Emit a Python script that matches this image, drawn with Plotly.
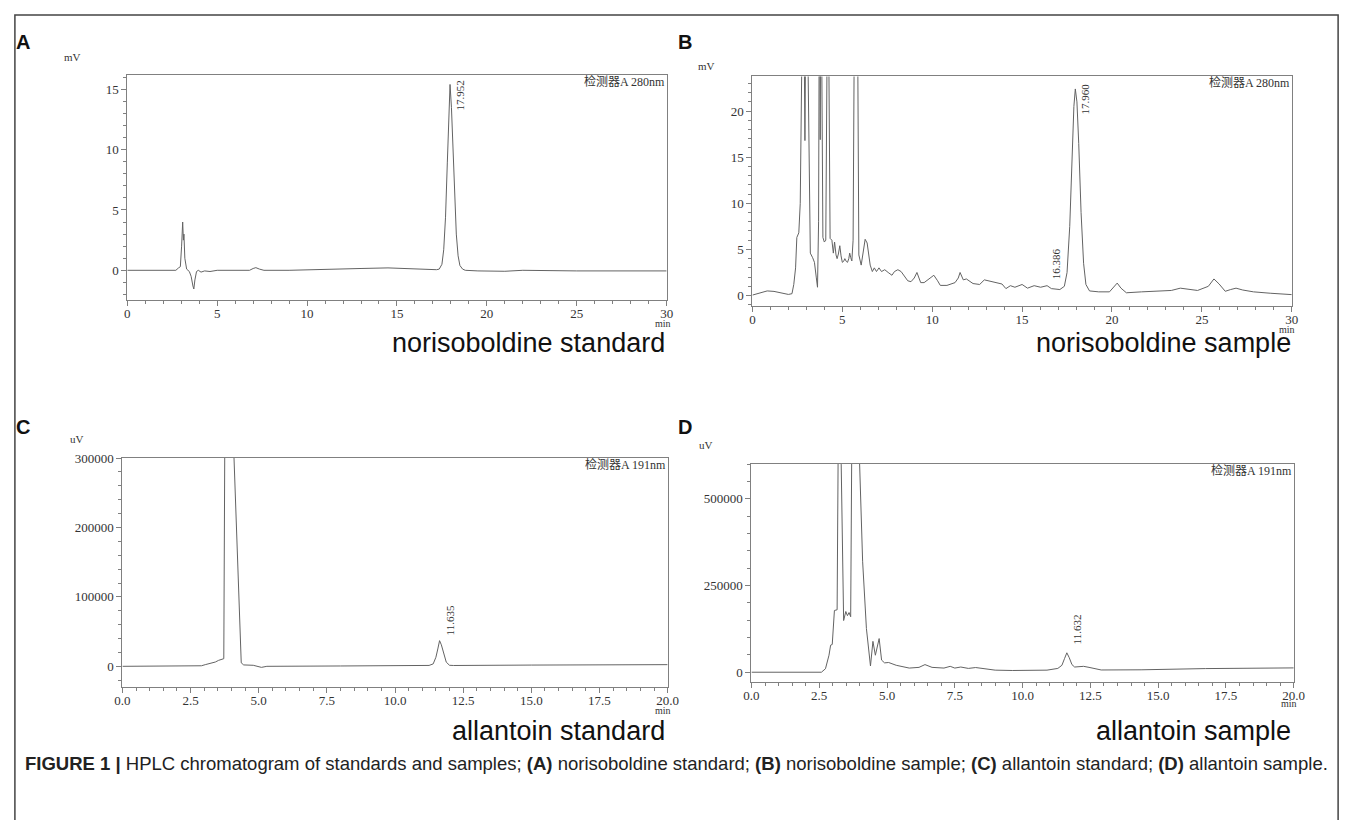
import plotly.graph_objects as go

W, H = 1357, 820

# ---- Panel A: norisoboldine standard, detector A 280 nm (mV vs min) ----
a_time = [0, 2.7, 2.85, 2.95, 3.02, 3.08, 3.12, 3.15, 3.2, 3.3, 3.45, 3.55, 3.65,
          3.7, 3.76, 3.85, 3.95, 4.1, 4.3, 4.6, 5.0, 6.8, 7.0, 7.15, 7.35, 7.6,
          9.0, 11.0, 13.0, 14.5, 15.5, 16.5, 17.2, 17.35, 17.5, 17.6, 17.7, 17.8,
          17.875, 17.952, 18.03, 18.1, 18.2, 18.3, 18.4, 18.5, 18.65, 18.8, 19.5,
          20.5, 21.0, 22.0, 25.0, 30.0]
a_signal = [0, 0, 0.2, 0.3, 2.0, 4.0, 2.5, 3.0, 1.0, 0.1, -0.1, -0.5, -1.3,
            -1.55, -0.8, -0.1, 0.0, -0.15, -0.05, -0.1, 0.0, 0.0, 0.15, 0.22, 0.1, 0.0,
            0.0, 0.05, 0.15, 0.2, 0.15, 0.05, 0.05, 0.1, 0.5, 1.7, 4.4, 8.9,
            12.5, 15.4, 13.5, 10.5, 6.5, 3.0, 1.2, 0.4, 0.1, 0.0, -0.05,
            -0.1, -0.08, 0.0, -0.05, -0.05]

# ---- Panel B: norisoboldine sample, detector A 280 nm (mV vs min) ----
b_time = [0, 0.4, 0.82, 1.2, 1.6, 2.0, 2.2, 2.3, 2.4, 2.47, 2.58, 2.66, 2.83, 2.92,
          3.0, 3.22, 3.35, 3.45, 3.55, 3.62, 3.68, 3.73, 3.77, 3.81, 3.92, 4.0,
          4.08, 4.2, 4.32, 4.42, 4.5, 4.57, 4.65, 4.71, 4.78, 4.86, 4.93, 5.0,
          5.07, 5.14, 5.22, 5.29, 5.36, 5.41, 5.47, 5.53, 5.6, 5.7, 5.82, 5.92,
          6.05, 6.15, 6.27, 6.38, 6.45, 6.55, 6.67, 6.78, 6.9, 7.04, 7.18, 7.36,
          7.55, 7.76, 7.9, 8.09, 8.27, 8.45, 8.64, 8.82, 9.0, 9.15, 9.36, 9.55,
          9.73, 10.09, 10.3, 10.45, 10.82, 11.27, 11.45, 11.55, 11.73, 11.9,
          12.27, 12.64, 12.9, 13.27, 13.64, 13.88, 14.1, 14.35, 14.6, 15.0, 15.3,
          15.67, 16.03, 16.39, 16.63, 17.1, 17.35, 17.5, 17.65, 17.78, 17.88,
          17.96, 18.05, 18.15, 18.28, 18.42, 18.55, 18.75, 19.26, 19.86, 20.05,
          20.29, 20.5, 20.8, 21.65, 22.6, 23.3, 23.8, 24.16, 24.76, 25.36, 25.67,
          25.96, 26.3, 26.6, 26.9, 27.27, 27.87, 28.8, 30.0]
b_signal = [0.05, 0.3, 0.5, 0.45, 0.25, 0.12, 0.2, 1.2, 3.0, 6.3, 6.8, 10.0, 40.0, 16.8,
            40.0, 4.6, 4.1, 3.6, 2.0, 0.9, 8.0, 40.0, 16.9, 40.0, 6.3, 5.8,
            6.0, 40.0, 6.2, 6.0, 4.6, 5.8, 4.4, 4.0, 4.5, 5.4, 4.3, 3.6,
            3.7, 4.0, 3.7, 3.6, 4.0, 4.6, 4.1, 3.75, 6.0, 40.0, 40.0, 4.4,
            3.3, 4.5, 6.1, 5.7, 4.8, 3.3, 2.6, 3.0, 2.6, 3.0, 2.6, 2.8,
            2.5, 2.2, 2.6, 2.8, 2.6, 2.1, 1.6, 1.5, 1.9, 2.5, 1.4, 1.4,
            1.7, 2.2, 1.6, 1.1, 1.1, 1.4, 1.9, 2.5, 1.7, 1.8,
            1.3, 1.2, 1.7, 1.5, 1.3, 1.25, 0.75, 1.07, 0.9, 1.2, 0.8,
            1.07, 0.9, 1.07, 0.75, 0.65, 1.0, 2.5, 7.5, 15.0, 20.5,
            22.4, 21.0, 16.5, 9.0, 3.5, 1.2, 0.5, 0.4, 0.4, 0.8,
            1.35, 0.8, 0.3, 0.4, 0.45, 0.55, 0.8, 0.7, 0.55, 1.0, 1.8,
            1.25, 0.46, 0.65, 0.8, 0.6, 0.4, 0.25, 0.1]

# ---- Panel C: allantoin standard, detector A 191 nm (uV vs min) ----
c_time = [0, 2.3, 2.9, 3.04, 3.22, 3.41, 3.53, 3.67, 3.72, 3.76, 3.9, 4.05, 4.36,
          4.45, 4.8, 5.1, 5.3, 8.0, 11.0, 11.25, 11.4, 11.5, 11.57, 11.635, 11.7,
          11.78, 11.88, 12.0, 12.15, 15.0, 20.0]
c_signal = [0, 500, 800, 2400, 3800, 6200, 8600, 10000, 11000, 350000, 400000, 350000, 5000,
            2000, 1500, -1500, 0, 500, 1000, 1300, 3500, 13000, 25000, 37000, 31000,
            18000, 6000, 1500, 1200, 1800, 2400]

# ---- Panel D: allantoin sample, detector A 191 nm (uV vs min) ----
d_time = [0, 2.58, 2.73, 2.86, 2.92, 2.98, 3.06, 3.16, 3.22, 3.26, 3.31, 3.4, 3.48,
          3.54, 3.6, 3.66, 3.72, 3.85, 3.95, 4.1, 4.24, 4.35, 4.39, 4.48, 4.57,
          4.71, 4.8, 4.91, 5.06, 5.34, 5.82, 6.18, 6.4, 6.66, 7.1, 7.33, 7.5,
          7.72, 8.0, 8.27, 8.99, 9.62, 10.9, 11.3, 11.45, 11.55, 11.632, 11.72,
          11.82, 11.92, 12.05, 12.25, 12.45, 12.65, 12.9, 14.37, 15.63, 16.74, 20.0]
d_signal = [0, 0, 10000, 49000, 78000, 80000, 178000, 180000, 900000, 900000, 600000, 149000, 175000,
            163000, 172000, 160000, 900000, 900000, 700000, 320000, 126000, 30000, 18000, 89000, 49000,
            97000, 35000, 27000, 28000, 20000, 12000, 14000, 22000, 14000, 12000, 17000, 12000,
            15000, 11000, 13500, 6000, 5000, 6000, 11000, 20000, 40000, 56000, 42000,
            22000, 15000, 16000, 17000, 14000, 10000, 6500, 7000, 9000, 10500, 12500]

panel_letters = ["A", "B", "C", "D"]
subtitles = ["norisoboldine standard", "norisoboldine sample",
             "allantoin standard", "allantoin sample"]
units = ["mV", "mV", "uV", "uV"]
detectors = ["检测器A 280nm", "检测器A 280nm", "检测器A 191nm", "检测器A 191nm"]
peak_names = [["17.952"], ["16.386", "17.960"], ["11.635"], ["11.632"]]
peak_times = [[17.952], [16.386, 17.960], [11.635], [11.632]]
peak_label_y = [[15.9], [1.5, 23.2], [41000], [74000]]
peak_anchor = [["top"], ["bottom", "top"], ["bottom"], ["bottom"]]
caption_bold = "FIGURE 1 |"
caption_text = (" HPLC chromatogram of standards and samples; <b>(A)</b> norisoboldine standard; "
                "<b>(B)</b> norisoboldine sample; <b>(C)</b> allantoin standard; "
                "<b>(D)</b> allantoin sample.")

# plot-area boxes in pixels: (left, right, top, bottom)
boxes = [(121, 668, 69, 296), (755, 1302, 70, 302),
         (116, 669, 455, 686), (754, 1304, 461, 681)]
# text positions in pixels
letter_pos = [(15, 35), (687, 35), (15, 424), (687, 424)]
unit_pos = [(65, 50), (708, 60), (70, 436), (708, 442)]
min_pos = [(674, 319), (1307, 325), (674, 710), (1309, 703)]
subtitle_pos = [(668, 339), (1303, 339), (668, 730), (1303, 730)]
peak_xshift = [[2], [1, 2], [2], [2]]

x_ranges = [[0, 30], [0, 30], [0, 20], [0, 20]]
y_ranges = [[-2.5, 16.15], [-1.18, 23.76], [-30000, 300000], [-28700, 600000]]
x_dticks = [5, 5, 2.5, 2.5]
x_minor = [1, 1, 0.5, 0.5]
y_dticks = [5, 5, 100000, 250000]
y_minor = [1, 1, 20000, 50000]

series_t = [a_time, b_time, c_time, d_time]
series_v = [a_signal, b_signal, c_signal, d_signal]

AXIS_COLOR = "#808080"
TRACE_COLOR = "#636363"
SERIF = "Liberation Serif, DejaVu Serif, serif"
SANS = "Liberation Sans, Arial, sans-serif"


def fx(px):
    return px / W


def fy(py):
    return 1 - py / H


fig = go.Figure()
annotations = []

for i in range(4):
    n = "" if i == 0 else str(i + 1)
    left, right, top, bottom = boxes[i]
    fig.add_trace(go.Scatter(
        x=series_t[i], y=series_v[i], mode="lines",
        line=dict(color=TRACE_COLOR, width=1),
        xaxis="x" + n, yaxis="y" + n, showlegend=False, hoverinfo="skip"))

    common = dict(showline=True, linecolor=AXIS_COLOR, linewidth=1, mirror=True,
                  ticks="outside", ticklen=5, tickcolor=AXIS_COLOR, showgrid=False,
                  zeroline=False, tickfont=dict(family=SERIF, size=13, color="#333333"))
    xfmt = ".1f" if i >= 2 else "d"
    fig.layout["xaxis" + n] = dict(
        common, domain=[fx(left), fx(right)], range=x_ranges[i], anchor="y" + n,
        tick0=0, dtick=x_dticks[i], tickformat=xfmt, ticklabelstandoff=-4,
        minor=dict(dtick=x_minor[i], tick0=0, ticks="outside", ticklen=3,
                   tickcolor=AXIS_COLOR))
    fig.layout["yaxis" + n] = dict(
        common, domain=[fy(bottom), fy(top)], range=y_ranges[i], anchor="x" + n,
        tick0=0, dtick=y_dticks[i], tickformat="d",
        minor=dict(dtick=y_minor[i], tick0=0, ticks="outside", ticklen=3,
                   tickcolor=AXIS_COLOR))

    # panel letter
    lx, ly = letter_pos[i]
    annotations.append(dict(
        text="<b>%s</b>" % panel_letters[i], xref="paper", yref="paper",
        x=fx(lx), y=fy(ly), xanchor="center", yanchor="middle", showarrow=False,
        font=dict(family=SANS, size=20, color="#111111")))
    # unit label
    ux, uy = unit_pos[i]
    annotations.append(dict(
        text=units[i], xref="paper", yref="paper",
        x=fx(ux), y=fy(uy), xanchor="center", yanchor="middle",
        showarrow=False, font=dict(family=SERIF, size=11, color="#333333")))
    # detector label
    annotations.append(dict(
        text=detectors[i], xref="paper", yref="paper",
        x=fx(right), y=fy(top + 6), xanchor="right", yanchor="middle",
        showarrow=False, font=dict(family=SERIF + ", Noto Sans CJK SC", size=12,
                                   color="#333333")))
    # time unit under the last tick label
    mx, my = min_pos[i]
    annotations.append(dict(
        text="min", xref="paper", yref="paper",
        x=fx(mx), y=fy(my), xanchor="right", yanchor="middle",
        showarrow=False, font=dict(family=SERIF, size=10, color="#333333")))
    # sample title
    sx, sy = subtitle_pos[i]
    annotations.append(dict(
        text=subtitles[i], xref="paper", yref="paper",
        x=fx(sx), y=fy(sy), xanchor="right", yanchor="middle",
        showarrow=False, font=dict(family=SANS, size=27, color="#111111")))
    # retention-time labels
    for name, t, py, anc, xs in zip(peak_names[i], peak_times[i], peak_label_y[i],
                                    peak_anchor[i], peak_xshift[i]):
        annotations.append(dict(
            text=name, xref="x" + n, yref="y" + n, x=t, y=py, textangle=-90,
            xanchor="left", yanchor=anc, xshift=xs, showarrow=False,
            font=dict(family=SERIF, size=11, color="#333333")))

annotations.append(dict(
    text="<b>%s</b>%s" % (caption_bold, caption_text), xref="paper", yref="paper",
    x=fx(15), y=fy(763), xanchor="left", yanchor="middle", showarrow=False,
    font=dict(family=SANS, size=18.5, color="#222222")))

fig.update_layout(
    width=W, height=H, margin=dict(l=0, r=0, t=0, b=0),
    paper_bgcolor="white", plot_bgcolor="white",
    annotations=annotations,
    shapes=[dict(type="rect", xref="paper", yref="paper",
                 x0=fx(7), x1=fx(1349), y0=-0.05, y1=fy(8),
                 line=dict(color="#444444", width=1.5))],
)

fig.write_html("out.html")
